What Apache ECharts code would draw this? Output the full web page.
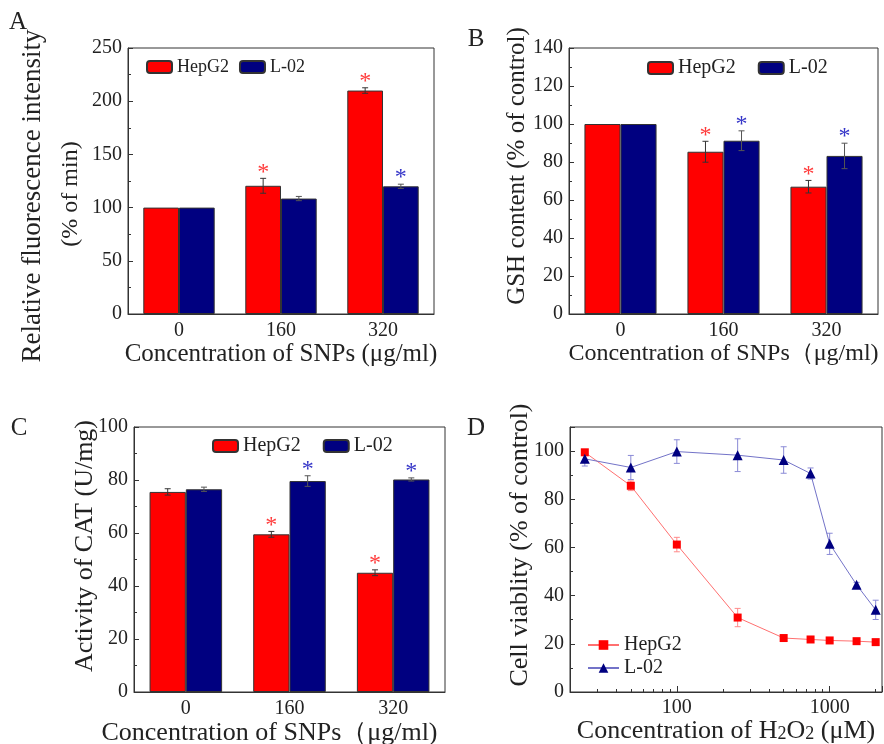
<!DOCTYPE html>
<html>
<head>
<meta charset="utf-8">
<script src="https://cdn.jsdelivr.net/npm/echarts@6/dist/echarts.min.js"></script>
<style>
html, body { margin: 0; padding: 0; background: #fff; }
#main { width: 884px; height: 744px; }
</style>
</head>
<body>
<div id="main"></div>
<script>
var snpDoses = ['0', '160', '320'];

// A  ROS (relative fluorescence)
var rosHepG2 = [100, 120.5, 210];
var rosHepG2Err = [0, 7, 2.6];
var rosL02 = [100, 108.5, 120];
var rosL02Err = [0, 2, 2];
var rosHepG2Star = [0, 1, 1];
var rosL02Star = [0, 0, 1];

// B  GSH content
var gshHepG2 = [100, 85.4, 67];
var gshHepG2Err = [0, 5.5, 3.3];
var gshL02 = [100, 91.2, 83.2];
var gshL02Err = [0, 5.2, 6.7];
var gshHepG2Star = [0, 1, 1];
var gshL02Star = [0, 1, 1];

// C  CAT activity
var catHepG2 = [75.5, 59.5, 45];
var catHepG2Err = [1.2, 1.1, 1.1];
var catL02 = [76.5, 79.6, 80.2];
var catL02Err = [0.8, 2, 0.6];
var catHepG2Star = [0, 1, 1];
var catL02Star = [0, 1, 1];

// D  cell viability vs H2O2
var h2o2Conc = [25, 50, 100, 250, 500, 750, 1000, 1500, 2000];
var h2o2Labels = [100, 1000];
var h2o2MinorTicks = [30, 40, 50, 60, 70, 80, 90, 200, 300, 400, 500, 600, 700, 800, 900, 2000];
var viaHepG2 = [99.5, 85.6, 61.2, 30.9, 22.4, 21.8, 21.4, 21.1, 20.7];
var viaHepG2Err = [0.8, 2, 3, 3.8, 0.5, 0.5, 0.5, 0.5, 0.5];
var viaL02 = [96.8, 93.2, 99.8, 98.3, 96.3, 90.7, 61.5, 44.5, 34.1];
var viaL02Err = [3, 5, 4.9, 6.8, 5.5, 2.3, 4.4, 1, 4];

var RED = '#ff0000', NAVY = '#000080';
var SERIF = 'Liberation Serif';
var dark = '#222';

var chart = echarts.init(document.getElementById('main'));

function zip(a, b, c, d) {
  var out = [];
  for (var i = 0; i < b.length; i++) out.push([a ? a[i] : i, b[i], c[i], d ? d[i] : 0]);
  return out;
}

// error bar (+ significance star) drawn over a grouped bar; side -1 left bar, +1 right bar
function barErr(side, color, starColor) {
  return function (params, api) {
    var i = api.value(0), v = api.value(1), e = api.value(2), star = api.value(3);
    var w = api.size([1, 0])[0];
    var x = api.coord([i, v])[0] + side * w * 0.175;
    var top = api.coord([i, v + e])[1];
    var bot = api.coord([i, v - e])[1];
    var kids = [];
    if (e > 0) {
      kids.push({ type: 'line', shape: { x1: x, y1: top, x2: x, y2: bot }, style: { stroke: color, lineWidth: 1 } });
      kids.push({ type: 'line', shape: { x1: x - 3, y1: top, x2: x + 3, y2: top }, style: { stroke: color, lineWidth: 1 } });
      kids.push({ type: 'line', shape: { x1: x - 3, y1: bot, x2: x + 3, y2: bot }, style: { stroke: color, lineWidth: 1 } });
    }
    if (star) {
      kids.push({ type: 'text', x: x, y: top - 6,
        style: { text: '*', fill: starColor, fontSize: 24, fontFamily: SERIF, align: 'center', verticalAlign: 'middle' } });
    }
    return { type: 'group', children: kids };
  };
}

function pointErr(color) {
  return function (params, api) {
    var xv = api.value(0), v = api.value(1), e = api.value(2);
    var x = api.coord([xv, v])[0];
    var top = api.coord([xv, v + e])[1];
    var bot = api.coord([xv, v - e])[1];
    return { type: 'group', children: [
      { type: 'line', shape: { x1: x, y1: top, x2: x, y2: bot }, style: { stroke: color, lineWidth: 1 } },
      { type: 'line', shape: { x1: x - 3, y1: top, x2: x + 3, y2: top }, style: { stroke: color, lineWidth: 1 } },
      { type: 'line', shape: { x1: x - 3, y1: bot, x2: x + 3, y2: bot }, style: { stroke: color, lineWidth: 1 } }
    ] };
  };
}

function catAxis(idx, name, nameSize, gap, shift) {
  return {
    type: 'category', gridIndex: idx, data: snpDoses,
    name: name, nameLocation: 'middle', nameGap: gap,
    nameTextStyle: { fontFamily: SERIF, fontSize: nameSize, color: dark, padding: [0, shift || 0, 0, 0] },
    axisLine: { lineStyle: { color: '#333', width: 1 } },
    axisTick: { show: false },
    axisLabel: { fontFamily: SERIF, fontSize: 20, color: dark, margin: 7 }
  };
}

function valAxis(idx, max, step) {
  return {
    type: 'value', gridIndex: idx, min: 0, max: max, interval: step,
    axisLine: { show: true, lineStyle: { color: '#333', width: 1 } },
    axisTick: { show: true, inside: true, length: 5, lineStyle: { color: '#333' } },
    minorTick: { show: true, splitNumber: 2, length: 3, lineStyle: { color: '#333' } },
    splitLine: { show: false },
    axisLabel: { fontFamily: SERIF, fontSize: 20, color: dark, margin: 6, showMaxLabel: max % step === 0 }
  };
}

function barPair(idx, hep, hepErr, hepStar, l02, l02Err, l02Star) {
  var border = { borderColor: '#333', borderWidth: 1 };
  return [
    { name: 'HepG2', type: 'bar', xAxisIndex: idx, yAxisIndex: idx, data: hep,
      barGap: '0%', barCategoryGap: '30%', itemStyle: Object.assign({ color: RED }, border) },
    { name: 'L-02', type: 'bar', xAxisIndex: idx, yAxisIndex: idx, data: l02,
      barGap: '0%', barCategoryGap: '30%', itemStyle: Object.assign({ color: NAVY }, border) },
    { type: 'custom', xAxisIndex: idx, yAxisIndex: idx, z: 5, silent: true,
      data: zip(null, hep, hepErr, hepStar), renderItem: barErr(-1, '#333', '#ff3b3b') },
    { type: 'custom', xAxisIndex: idx, yAxisIndex: idx, z: 5, silent: true,
      data: zip(null, l02, l02Err, l02Star), renderItem: barErr(1, '#555', '#3535c8') }
  ];
}

function ptsOf(xs, ys) {
  var out = [];
  for (var i = 0; i < xs.length; i++) out.push([xs[i], ys[i]]);
  return out;
}

function legendBox(left, top, size, gap) {
  return {
    left: left, top: top, padding: 0, itemGap: gap, itemWidth: 25, itemHeight: 12,
    data: ['HepG2', 'L-02'], selectedMode: false,
    textStyle: { fontFamily: SERIF, fontSize: size, color: dark }
  };
}

function yTitle(x, y, text, size) {
  return { type: 'text', x: x, y: y, rotation: Math.PI / 2,
    style: { text: text, fontFamily: SERIF, fontSize: size, fill: dark, align: 'center', verticalAlign: 'middle' } };
}

function panelTag(x, y, t) {
  return { type: 'text', x: x, y: y,
    style: { text: t, fontFamily: SERIF, fontSize: 25, fill: dark, align: 'center', verticalAlign: 'middle' } };
}

var gridStyle = { show: true, borderColor: '#333', borderWidth: 1, backgroundColor: 'transparent', outerBoundsMode: 'none' };

var dNames = { 'HepG2 (D)': 'HepG2', 'L-02 (D)': 'L-02' };

var option = {
  backgroundColor: '#fff',
  animation: false,
  grid: [
    Object.assign({ left: 128, top: 48, width: 306, height: 266 }, gridStyle),
    Object.assign({ left: 569, top: 48, width: 309, height: 266 }, gridStyle),
    Object.assign({ left: 134, top: 427, width: 311, height: 265 }, gridStyle),
    Object.assign({ left: 570, top: 427, width: 312, height: 265 }, gridStyle)
  ],
  xAxis: [
    catAxis(0, 'Concentration of SNPs (μg/ml)', 25, 27),
    catAxis(1, 'Concentration of SNPs（μg/ml)', 24, 24),
    catAxis(2, 'Concentration of SNPs（μg/ml)', 26, 26, 40),
    {
      // main log axis of panel D: line, major ticks and title
      type: 'log', gridIndex: 3, min: 20, max: 2200, position: 'bottom',
      name: 'Concentration of H{s|2}O{s|2} (μM)', nameLocation: 'middle', nameGap: 26,
      nameMoveOverlap: false,
      nameTextStyle: { fontFamily: SERIF, fontSize: 26, color: dark,
        rich: { s: { fontFamily: SERIF, fontSize: 18, color: dark, verticalAlign: 'bottom', padding: [0, 0, 1, 0] } } },
      axisLine: { lineStyle: { color: '#333', width: 1 } },
      axisTick: { show: true, inside: true, length: 6, lineStyle: { color: '#333' } },
      splitLine: { show: false },
      axisLabel: { show: false }
    },
    {
      // companion axis in the same grid: decade labels and the 2..9 minor ticks
      type: 'log', gridIndex: 3, min: 20, max: 2200, position: 'bottom',
      axisLine: { show: false },
      axisTick: { show: true, inside: true, length: 3, customValues: h2o2MinorTicks, lineStyle: { color: '#333' } },
      splitLine: { show: false },
      axisLabel: { show: true, fontFamily: SERIF, fontSize: 20, color: dark, margin: 6, hideOverlap: false,
        customValues: h2o2Labels,
        formatter: function (v) { return String(Math.round(v)); } }
    }
  ],
  yAxis: [
    valAxis(0, 250, 50),
    valAxis(1, 140, 20),
    valAxis(2, 100, 20),
    valAxis(3, 110, 20)
  ],
  legend: [
    legendBox(146, 58, 18, 10),
    legendBox(647, 58, 20, 22),
    legendBox(212, 436, 20, 22),
    {
      left: 587, top: 635, padding: 0, orient: 'vertical', itemGap: 3, itemWidth: 31, itemHeight: 12,
      data: ['HepG2 (D)', 'L-02 (D)'], selectedMode: false,
      formatter: function (n) { return dNames[n]; },
      textStyle: { fontFamily: SERIF, fontSize: 20, color: dark }
    }
  ],
  graphic: [
    panelTag(18, 22, 'A'),
    panelTag(476, 39, 'B'),
    panelTag(19, 428, 'C'),
    panelTag(476, 428, 'D'),
    yTitle(33, 196, 'Relative fluorescence intensity', 27),
    yTitle(71, 194, '(% of min)', 24),
    yTitle(517, 166, 'GSH content (% of control)', 25),
    yTitle(85, 546, 'Activity of CAT (U/mg)', 26),
    yTitle(520, 545, 'Cell viablity (% of control)', 26)
  ],
  series: [].concat(
    barPair(0, rosHepG2, rosHepG2Err, rosHepG2Star, rosL02, rosL02Err, rosL02Star),
    barPair(1, gshHepG2, gshHepG2Err, gshHepG2Star, gshL02, gshL02Err, gshL02Star),
    barPair(2, catHepG2, catHepG2Err, catHepG2Star, catL02, catL02Err, catL02Star),
    [
      { type: 'custom', xAxisIndex: 3, yAxisIndex: 3, z: 1, silent: true,
        data: zip(h2o2Conc, viaHepG2, viaHepG2Err), renderItem: pointErr('#ff8a8a') },
      { type: 'custom', xAxisIndex: 3, yAxisIndex: 3, z: 1, silent: true,
        data: zip(h2o2Conc, viaL02, viaL02Err), renderItem: pointErr('#8a8ad6') },
      { name: 'HepG2 (D)', type: 'line', xAxisIndex: 3, yAxisIndex: 3, z: 3,
        data: ptsOf(h2o2Conc, viaHepG2), symbol: 'rect', symbolSize: 8,
        itemStyle: { color: RED }, lineStyle: { color: '#ff7070', width: 1 } },
      { name: 'L-02 (D)', type: 'line', xAxisIndex: 3, yAxisIndex: 3, z: 3,
        data: ptsOf(h2o2Conc, viaL02), symbol: 'triangle', symbolSize: 10,
        itemStyle: { color: NAVY }, lineStyle: { color: '#7373c8', width: 1 } }
    ]
  )
};

chart.setOption(option);
window.addEventListener('resize', function () {
  chart.resize();
});
</script>
</body>
</html>
